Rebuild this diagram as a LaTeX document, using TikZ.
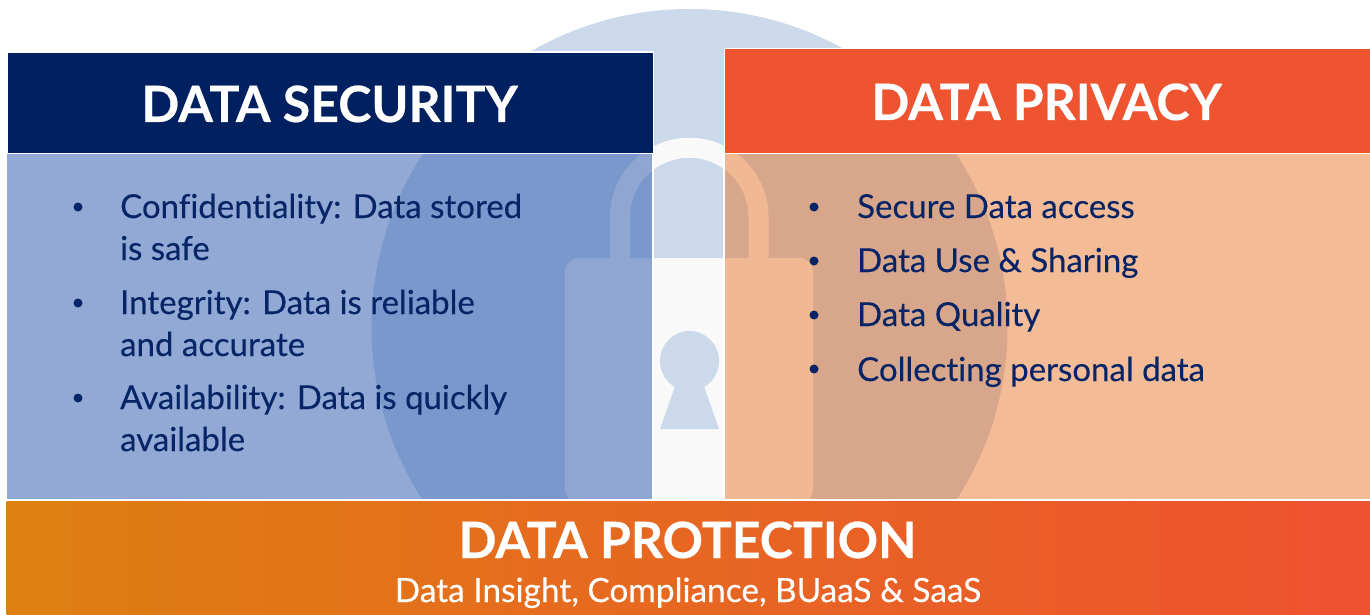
\documentclass[tikz,border=0pt]{standalone}
\usepackage{fontspec}
\setmainfont{Lato}[Ligatures=NoCommon]
\definecolor{navy}{RGB}{0,32,96}
\definecolor{ink}{RGB}{6,36,102}
\definecolor{redor}{RGB}{239,84,48}
\definecolor{pale}{RGB}{203,217,235}
\definecolor{lockw}{RGB}{249,249,249}
\definecolor{panelb}{RGB}{59,102,179}
\definecolor{panelo}{RGB}{232,114,36}
\definecolor{gradl}{RGB}{222,128,16}
\definecolor{gradr}{RGB}{238,82,48}
\tikzset{
  head/.style={text=white,font=\fontsize{50}{50}\selectfont\bfseries\addfontfeature{FakeBold=0.4},anchor=base},
  body/.style={text=ink,font=\fontsize{33}{33}\selectfont\addfontfeature{FakeBold=0.25},anchor=base west,inner sep=0pt},
  bullet/.style={circle,fill=ink,inner sep=0pt,minimum size=9pt},
  edge/.style={draw=white,line width=1.5pt}
}
\begin{document}
\begin{tikzpicture}[x=1pt,y=-1pt]
\useasboundingbox (0,0) rectangle (1370,615);
\fill[white] (0,0) rectangle (1370,615);
% big circle, clipped at the bottom band
\begin{scope}
\clip (0,0) rectangle (1370,500);
\fill[pale] (689.5,327) circle[radius=318];
\end{scope}
% padlock
\draw[lockw,line width=20pt] (620,262) -- (620,217) arc[start angle=180,end angle=0,radius=69.25pt] -- (758.5,262);
\fill[lockw,rounded corners=14pt] (565,258) rectangle (813,503);
\fill[pale] (689.5,361) circle[x radius=29.5,y radius=30];
\fill[pale] (678,378) -- (701,378) -- (719,429) -- (660,429) -- cycle;
% panels
\fill[panelb,fill opacity=.56] (6.5,153) rectangle (653,500);
\fill[panelo,fill opacity=.48] (724,153) rectangle (1370,500);
\draw[edge] (6.5,153) rectangle (653,500);
\draw[edge] (724,153) rectangle (1372,500);
% headers
\node[fill=navy,draw=white,line width=1.2pt,minimum width=646.5pt,minimum height=101pt,inner sep=0pt,anchor=north west] (secbox) at (6.5,51.5) {};
\node[fill=redor,draw=white,line width=1.2pt,minimum width=650pt,minimum height=104.5pt,inner sep=0pt,anchor=north west] (privbox) at (724,48) {};
\shade[left color=gradl,right color=gradr,middle color=gradl!45!gradr] (6.5,501) rectangle (1370,615);
\draw[white,line width=1.2pt] (6.5,500.5) -- (1370,500.5);
\node[head] (sectitle) at (329.5,122) {DATA SECURITY};
\node[head] (privtitle) at (1046.5,120) {DATA PRIVACY};
\node[head] (prottitle) at (687.5,558) {DATA PROTECTION};
\node[text=white,font=\fontsize{33.4}{33.4}\selectfont\addfontfeature{FakeBold=0.25},anchor=base] (protsub) at (688,602) {Data Insight, Compliance, BUaaS \& SaaS};
% left list
\node[bullet] (bl1) at (78,207) {};
\node[bullet] (bl2) at (78,303) {};
\node[bullet] (bl3) at (78,398) {};
\node[body] (l1) at (120,218) {Confidentiality: Data stored};
\node[body] (l1b) at (120,260) {is safe};
\node[body] (l2) at (120,314) {Integrity: Data is reliable};
\node[body] (l2b) at (120,356) {and accurate};
\node[body] (l3) at (120,409) {Availability: Data is quickly};
\node[body] (l3b) at (120,451) {available};
% right list
\node[bullet] (br1) at (814,207) {};
\node[bullet] (br2) at (814,261) {};
\node[bullet] (br3) at (814,315) {};
\node[bullet] (br4) at (814,369) {};
\node[body] (r1) at (857,218) {Secure Data access};
\node[body] (r2) at (857,272) {Data Use \& Sharing};
\node[body] (r3) at (857,326) {Data Quality};
\node[body] (r4) at (857,381) {Collecting personal data};
\end{tikzpicture}
\end{document}
